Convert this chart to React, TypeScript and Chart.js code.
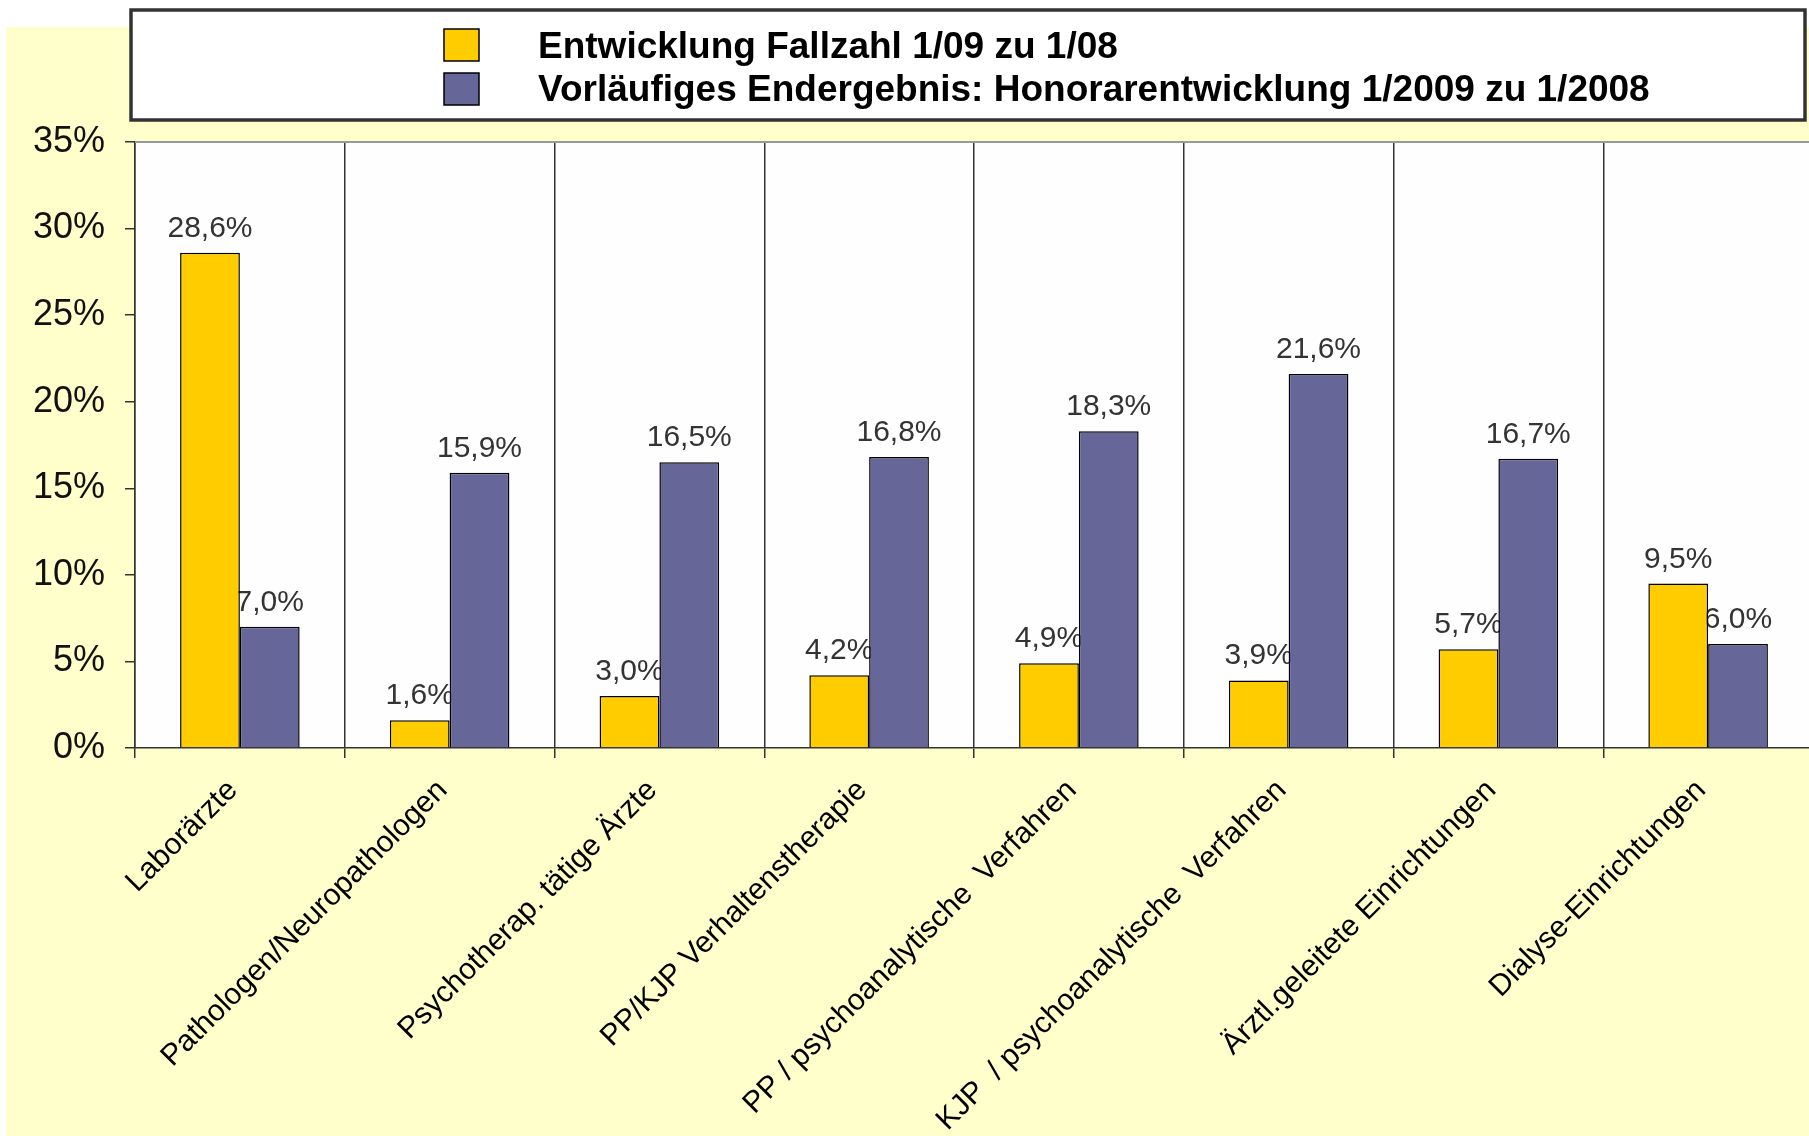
import React, { useEffect, useRef } from "react";
import { Chart, registerables } from "chart.js";

Chart.register(...registerables);

const categories = [
  "Laborärzte",
  "Pathologen/Neuropathologen",
  "Psychotherap. tätige Ärzte",
  "PP/KJP Verhaltenstherapie",
  "PP / psychoanalytische  Verfahren",
  "KJP  / psychoanalytische  Verfahren",
  "Ärztl.geleitete Einrichtungen",
  "Dialyse-Einrichtungen",
];
const seriesNames = [
  "Entwicklung Fallzahl 1/09 zu 1/08",
  "Vorläufiges Endergebnis: Honorarentwicklung 1/2009 zu 1/2008",
];
const fallzahl = [28.6, 1.6, 3.0, 4.2, 4.9, 3.9, 5.7, 9.5];
const honorar = [7.0, 15.9, 16.5, 16.8, 18.3, 21.6, 16.7, 6.0];
const yMin = 0;
const yMax = 35;
const yStep = 5;

const FONT = '"Liberation Sans", Arial, Helvetica, sans-serif';
const W = 1809;
const H = 1136;
const CW = 1813; // canvas slightly wider; the plot runs off the right edge

const bgPlugin = {
  id: "bgPlugin",
  beforeDraw(chart: any) {
    const { ctx, width, height, chartArea: ca } = chart;
    ctx.save();
    ctx.fillStyle = "#ffffff";
    ctx.fillRect(0, 0, width, height);
    ctx.fillStyle = "#FFFFCC";
    ctx.fillRect(6, 27, width - 6, height - 27);
    ctx.fillStyle = "#FEFEFE";
    ctx.fillRect(ca.left, ca.top, ca.right - ca.left, ca.bottom - ca.top);
    ctx.restore();
  },
};

const labelPlugin = {
  id: "labelPlugin",
  beforeDatasetsDraw(chart: any) {
    const { ctx } = chart;
    ctx.save();
    ctx.font = `30px ${FONT}`;
    ctx.fillStyle = "#333333";
    ctx.textAlign = "center";
    ctx.textBaseline = "alphabetic";
    chart.data.datasets.forEach((ds: any, i: number) => {
      const meta = chart.getDatasetMeta(i);
      meta.data.forEach((el: any, j: number) => {
        const v = ds.data[j] as number;
        const txt = v.toFixed(1).replace(".", ",") + "%";
        ctx.fillText(txt, el.x, el.y - 16);
      });
    });
    ctx.restore();
  },
};

const framePlugin = {
  id: "framePlugin",
  afterDraw(chart: any) {
    const { ctx, chartArea: ca } = chart;
    ctx.save();
    // top border of plot
    ctx.strokeStyle = "#999999";
    ctx.lineWidth = 2;
    ctx.beginPath();
    ctx.moveTo(ca.left, ca.top);
    ctx.lineTo(ca.right, ca.top);
    ctx.stroke();

    // legend box
    const lx = 131, ly = 10, lw = 1674, lh = 110;
    ctx.fillStyle = "#ffffff";
    ctx.fillRect(lx, ly, lw, lh);
    ctx.strokeStyle = "#333333";
    ctx.lineWidth = 3.5;
    ctx.strokeRect(lx, ly, lw, lh);

    const ys = [29, 73];
    const baselines = [58, 101];
    chart.data.datasets.forEach((ds: any, i: number) => {
      ctx.fillStyle = ds.backgroundColor;
      ctx.fillRect(444, ys[i], 35, 32);
      ctx.strokeStyle = "#000000";
      ctx.lineWidth = 1.5;
      ctx.strokeRect(444, ys[i], 35, 32);
      ctx.fillStyle = "#000000";
      ctx.font = `bold 37px ${FONT}`;
      ctx.textAlign = "left";
      ctx.textBaseline = "alphabetic";
      ctx.fillText(ds.label, 538, baselines[i]);
    });
    ctx.restore();
  },
};

export default function App() {
  const ref = useRef<HTMLCanvasElement | null>(null);

  useEffect(() => {
    document.body.style.margin = "0";
    document.body.style.overflow = "hidden";
    const canvas = ref.current;
    if (!canvas) return;
    const chart = new Chart(canvas, {
      type: "bar",
      data: {
        labels: categories,
        datasets: [
          {
            label: seriesNames[0],
            data: fallzahl,
            backgroundColor: "#FFCC00",
            borderColor: "#000000",
            borderWidth: 1.5,
            categoryPercentage: 0.57,
            barPercentage: 1.0,
          },
          {
            label: seriesNames[1],
            data: honorar,
            backgroundColor: "#666699",
            borderColor: "#000000",
            borderWidth: 1.5,
            categoryPercentage: 0.57,
            barPercentage: 1.0,
          },
        ],
      },
      options: {
        responsive: false,
        maintainAspectRatio: false,
        animation: false,
        devicePixelRatio: 1,
        layout: { padding: { top: 142, left: 0, right: 0, bottom: 0 } },
        plugins: {
          legend: { display: false },
          tooltip: { enabled: false },
          title: { display: false },
        },
        scales: {
          x: {
            offset: true,
            grid: {
              display: true,
              drawOnChartArea: true,
              offset: true,
              color: "#333333",
              tickColor: "#333333",
              lineWidth: 1.5,
              tickLength: 10,
            },
            border: { display: true, color: "#333333", width: 1.5 },
            ticks: {
              autoSkip: false,
              minRotation: 45,
              maxRotation: 45,
              color: "#000000",
              padding: 15,
              labelOffset: -7,
              font: { family: FONT, size: 30 },
            },
            afterFit(scale: any) {
              scale.height = 388;
            },
          },
          y: {
            min: yMin,
            max: yMax,
            grid: {
              drawOnChartArea: false,
              drawTicks: true,
              tickLength: 10,
              color: "#333333",
              tickColor: "#333333",
              lineWidth: 1.5,
            },
            border: { display: true, color: "#333333", width: 1.5 },
            ticks: {
              stepSize: yStep,
              color: "#111111",
              padding: 20,
              font: { family: FONT, size: 36 },
              callback: (v: any) => `${v}%`,
            },
            afterFit(scale: any) {
              scale.width = 135;
            },
          },
        },
      } as any,
      plugins: [bgPlugin, labelPlugin, framePlugin],
    });
    return () => chart.destroy();
  }, []);

  return (
    <div style={{ width: W, height: H, position: "relative", overflow: "hidden" }}>
      <canvas ref={ref} width={CW} height={H} style={{ width: CW, height: H, display: "block" }} />
    </div>
  );
}
